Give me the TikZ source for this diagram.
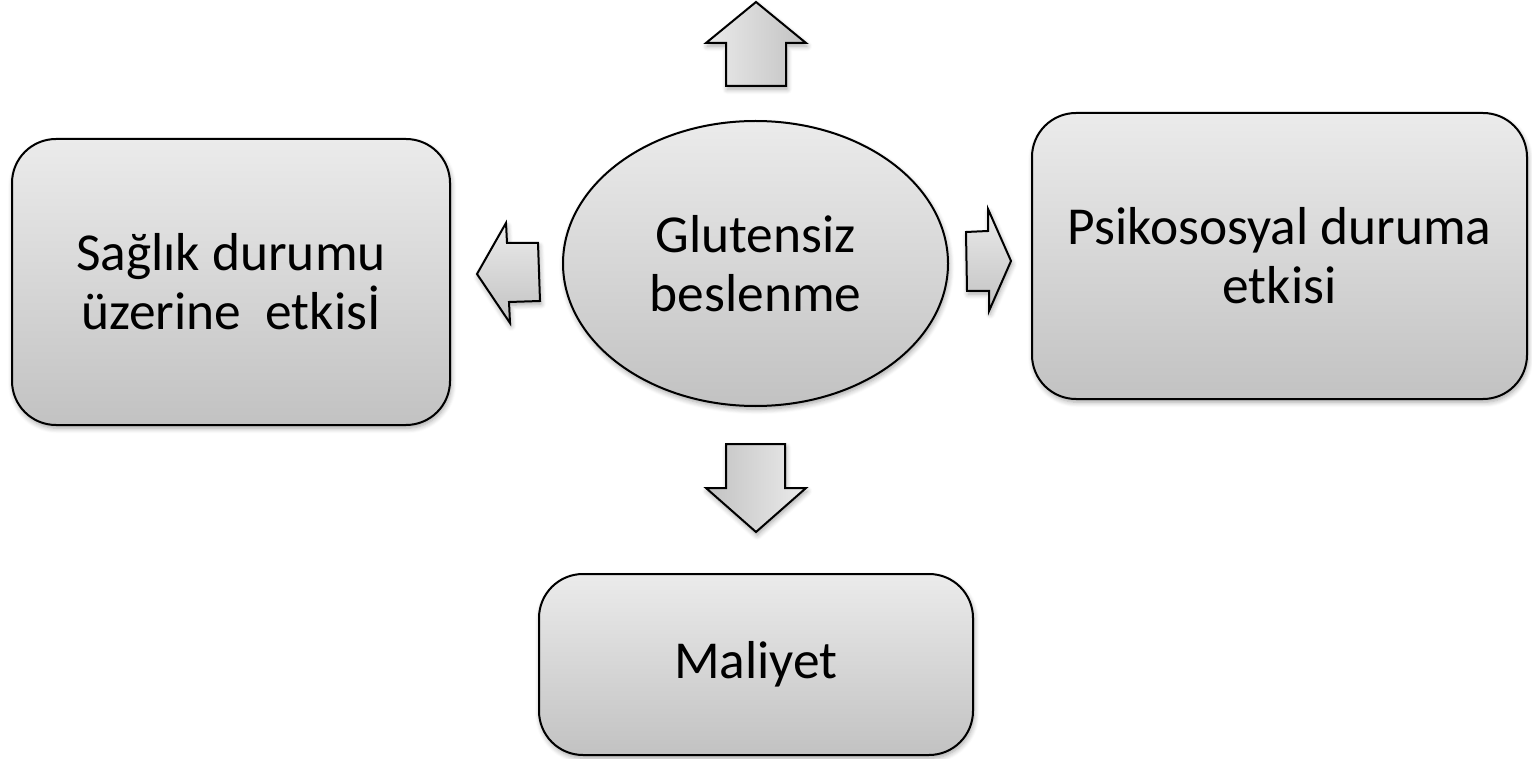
\documentclass[tikz,border=0pt]{standalone}
\usepackage{fontspec}
\setmainfont{Carlito}
\usetikzlibrary{shapes.geometric,shadows.blur}
\definecolor{gtop}{HTML}{EBEBEB}
\definecolor{gbot}{HTML}{C2C2C2}
\newcommand{\bigtext}{\fontsize{26.7pt}{29.5pt}\selectfont}
\tikzset{
  shad/.style={blur shadow={shadow xshift=0.6pt, shadow yshift=-1.6pt, shadow blur radius=2.5pt, shadow blur steps=6, shadow opacity=35}},
  boxstyle/.style={draw=black, line width=1pt, rounded corners=22pt, top color=gtop, bottom color=gbot, shad, align=center, inner sep=0pt, font=\bigtext, rectangle},
  ellstyle/.style={draw=black, line width=1pt, ellipse, top color=gtop, bottom color=gbot, shad, align=center, inner sep=0pt, font=\bigtext},
  blockarrow/.style={draw=black, line width=1pt, line join=miter, shad}
}
\begin{document}
\begin{tikzpicture}[x=0.5pt, y=-0.5pt]
\useasboundingbox (0,0) rectangle (1532,759);
\node[boxstyle, minimum width=219pt, minimum height=143pt] (sag) at (231,282) {Sağlık durumu\\üzerine\ \ etkisİ};
\node[boxstyle, minimum width=247.5pt, minimum height=143pt] (psi) at (1279.5,256) {Psikososyal duruma\\etkisi};
\node[boxstyle, minimum width=217pt, minimum height=90.5pt] (mal) at (756,664.5) {Maliyet};
\node[ellstyle, minimum width=192.5pt, minimum height=142.5pt] (glu) at (755.5,263.5) {Glutensiz\\beslenme};
% up arrow
\path[blockarrow, left color=gtop, right color=gbot] (706,43) -- (756,2) -- (806,43) -- (786,43) -- (786,86) -- (726,86) -- (726,43) -- cycle;
% down arrow
\path[blockarrow, left color=gbot, right color=gtop] (726,444) -- (785,444) -- (785,488) -- (806,488) -- (756,532) -- (706,488) -- (726,488) -- cycle;
% left arrow
\path[blockarrow, top color=gtop, bottom color=gbot] (477,274) -- (506,223) -- (507,243) -- (538,243) -- (540,301) -- (509,302) -- (510,323) -- cycle;
% right arrow
\path[blockarrow, top color=gtop, bottom color=gbot] (966,232) -- (988,231) -- (988,209) -- (1011,261) -- (989,311) -- (989,291) -- (967,291) -- cycle;
\end{tikzpicture}
\end{document}
